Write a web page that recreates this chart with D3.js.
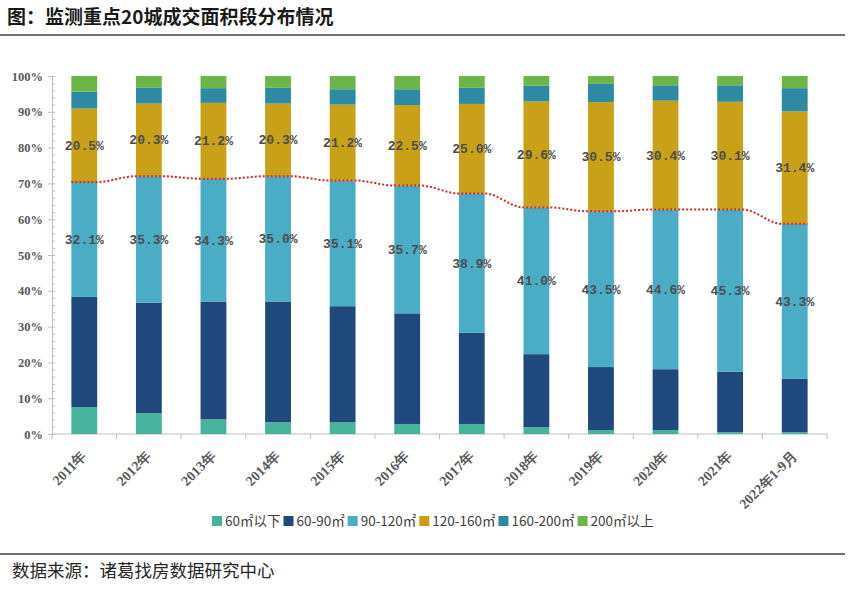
<!DOCTYPE html>
<html><head><meta charset="utf-8">
<script src="https://cdn.jsdelivr.net/npm/d3@7"></script>
<style>
html,body{margin:0;padding:0;background:#fff;}
svg{display:block;}
</style></head>
<body>
<svg id="chart" width="850" height="595"></svg>
<script>
const title = "图：监测重点20城成交面积段分布情况";
const source = "数据来源：诸葛找房数据研究中心";
const categories = ["2011年","2012年","2013年","2014年","2015年","2016年","2017年","2018年","2019年","2020年","2021年","2022年1-9月"];
const seriesNames = ["60㎡以下","60-90㎡","90-120㎡","120-160㎡","160-200㎡","200㎡以上"];
const s60 = [7.5,5.8,4.1,3.3,3.3,2.8,2.8,1.9,1.1,1.1,0.5,0.5];
const s60_90 = [30.8,30.9,32.9,33.7,32.4,30.9,25.5,20.4,17.6,17.0,16.9,14.9];
const s90_120 = [32.1,35.3,34.3,35.0,35.1,35.7,38.9,41.0,43.5,44.6,45.3,43.3];
const s120_160 = [20.5,20.3,21.2,20.3,21.2,22.5,25.0,29.6,30.5,30.4,30.1,31.4];
const s160_200 = [4.7,4.5,4.1,4.4,4.3,4.4,4.5,4.4,5.1,4.3,4.6,6.5];
const s200 = [4.4,3.2,3.4,3.3,3.7,3.7,3.3,2.7,2.2,2.6,2.6,3.4];
const yTicks = [0,10,20,30,40,50,60,70,80,90,100];
const labeledSeries = ["90-120㎡","120-160㎡"];
const colors = ["#47b39d","#1f497d","#4bacc6","#c9a118","#2d8aa2","#6db548"];

const allSeries = [s60,s60_90,s90_120,s120_160,s160_200,s200];
const rows = categories.map((c,i)=>{
  const r = {cat:c};
  seriesNames.forEach((k,j)=>r[k]=allSeries[j][i]);
  return r;
});
const stacked = d3.stack().keys(seriesNames)(rows);

const svg = d3.select("#chart");
const L = 52, R = 827, T = 76, B = 434;
const x = d3.scaleBand().domain(categories).range([L,R]).paddingInner(0.6).paddingOuter(0.3);
const y = d3.scaleLinear().domain([0,100]).range([B,T]);
const color = d3.scaleOrdinal().domain(seriesNames).range(colors);

// title
svg.append("text").attr("x",7).attr("y",24).attr("font-family","'Noto Sans CJK SC'")
  .attr("font-size",19).attr("font-weight","bold").attr("fill","#1a1a1a").text(title);
svg.append("line").attr("x1",0).attr("x2",845).attr("y1",35).attr("y2",35).attr("stroke","#404040").attr("stroke-width",1.5);

// y axis
const yAxis = d3.axisLeft(y).tickValues(yTicks).tickFormat(d=>d+"%").tickSize(4).tickPadding(5);
const gy = svg.append("g").attr("transform",`translate(${L},0)`).call(yAxis);
gy.select(".domain").attr("stroke","#bfbfbf");
gy.selectAll(".tick line").attr("stroke","#bfbfbf").attr("x2",-4).attr("x1",3);
gy.selectAll(".tick text").attr("font-family","'Liberation Serif'").attr("font-weight","bold")
  .attr("font-size",12.5).attr("fill","#595959");
const minor = d3.range(0,101,2).filter(v=>v%10!==0);
const gm = svg.append("g").attr("transform",`translate(${L},0)`)
  .call(d3.axisRight(y).tickValues(minor).tickSize(3).tickFormat(""));
gm.select(".domain").remove();
gm.selectAll(".tick line").attr("stroke","#bfbfbf");

// x axis
const gx = svg.append("g").attr("transform",`translate(0,${B})`);
gx.append("line").attr("x1",L).attr("x2",R).attr("stroke","#bfbfbf");
d3.range(categories.length+1).forEach(i=>{
  const xx = L + i*x.step();
  gx.append("line").attr("x1",xx).attr("x2",xx).attr("y1",0).attr("y2",5).attr("stroke","#bfbfbf");
});
gx.selectAll("text.xl").data(categories).enter().append("text").attr("class","xl")
  .attr("transform",d=>`translate(${x(d)+x.bandwidth()/2+3},${23}) rotate(-45)`)
  .attr("text-anchor","end").attr("font-family","'Liberation Serif'").attr("font-weight","bold")
  .attr("font-size",14).attr("fill","#595959").text(d=>d);

// bars
svg.append("g").selectAll("g").data(stacked).enter().append("g")
  .attr("fill",d=>color(d.key))
  .selectAll("rect").data(d=>d).enter().append("rect")
  .attr("x",d=>x(d.data.cat)).attr("width",x.bandwidth())
  .attr("y",d=>y(d[1])).attr("height",d=>y(d[0])-y(d[1]));

// red dotted series line at top of 90-120
const s3 = stacked.find(s=>s.key==="90-120㎡");
const pts = [];
s3.forEach(d=>{
  pts.push([x(d.data.cat), y(d[1])]);
  pts.push([x(d.data.cat)+x.bandwidth(), y(d[1])]);
});
svg.append("path").attr("d",d3.line().curve(d3.curveMonotoneX)(pts)).attr("fill","none")
  .attr("stroke","#e8202a").attr("stroke-width",2).attr("stroke-dasharray","2,2");

// labels
stacked.filter(s=>labeledSeries.includes(s.key)).forEach(s=>{
  svg.append("g").selectAll("text").data(s).enter().append("text")
    .attr("x",d=>x(d.data.cat)+x.bandwidth()/2)
    .attr("y",d=>y((d[0]+d[1])/2))
    .attr("dy","0.35em").attr("text-anchor","middle")
    .attr("font-family","'Liberation Mono'").attr("font-weight","bold").attr("font-size",13)
    .attr("fill","#4d4d4d").text(d=>(d[1]-d[0]).toFixed(1)+"%");
});

// legend
const lg = svg.append("g").attr("transform","translate(212,521)");
let lx = 0;
seriesNames.forEach(n=>{
  const g = lg.append("g").attr("transform",`translate(${lx},0)`);
  g.append("rect").attr("x",0).attr("y",-5).attr("width",10).attr("height",10).attr("fill",color(n));
  const t = g.append("text").attr("x",13).attr("y",0).attr("dy","0.35em")
    .attr("font-family","'Noto Sans CJK SC'").attr("font-size",13.5).attr("fill","#404040").text(n);
  lx += 13 + t.node().getComputedTextLength() + 3;
});

// source
svg.append("line").attr("x1",0).attr("x2",845).attr("y1",554).attr("y2",554).attr("stroke","#404040").attr("stroke-width",1.5);
svg.append("text").attr("x",12).attr("y",577).attr("font-family","'Noto Sans CJK SC'")
  .attr("font-size",17.5).attr("fill","#262626").text(source);
</script>
</body></html>
